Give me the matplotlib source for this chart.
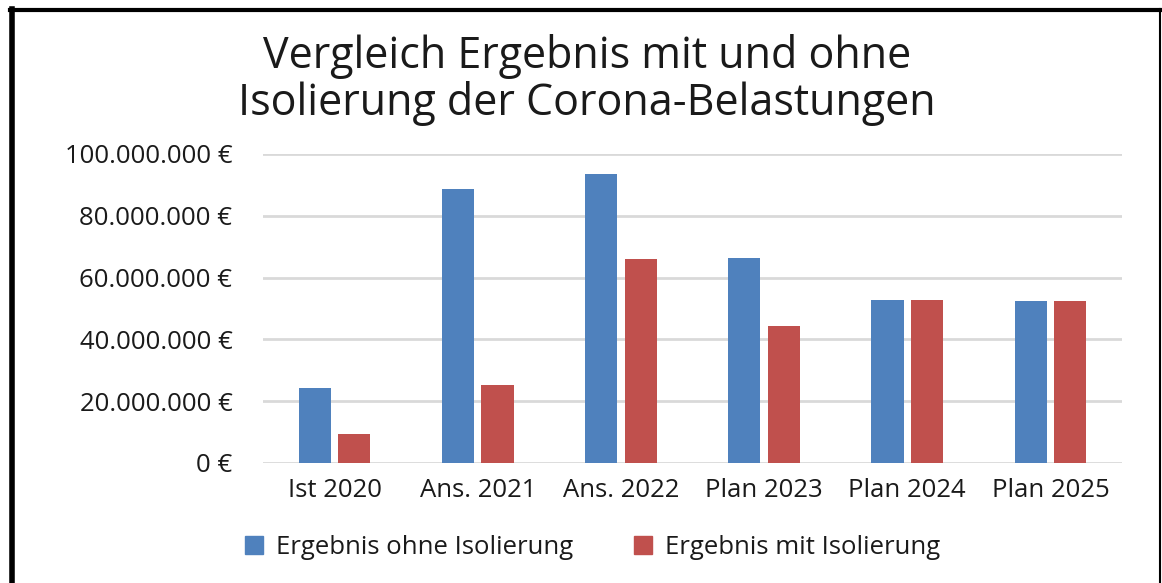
import matplotlib
matplotlib.use("Agg")
import matplotlib.pyplot as plt
import numpy as np
from matplotlib.patches import Patch
from matplotlib.lines import Line2D
from matplotlib.ticker import FuncFormatter

categories = ["Ist 2020", "Ans. 2021", "Ans. 2022", "Plan 2023", "Plan 2024", "Plan 2025"]
ohne = [24_300_000, 88_700_000, 93_600_000, 66_300_000, 52_700_000, 52_400_000]
mit = [9_400_000, 25_100_000, 65_900_000, 44_300_000, 52_700_000, 52_400_000]
series_names = ["Ergebnis ohne Isolierung", "Ergebnis mit Isolierung"]
title = "Vergleich Ergebnis mit und ohne\nIsolierung der Corona-Belastungen"

BLUE = "#4f81bd"
RED = "#c0504d"
GRID = "#d9d9d9"
TXT = "#1a1a1a"
FONT = ["Open Sans", "DejaVu Sans"]
plt.rcParams["font.family"] = FONT

fig = plt.figure(figsize=(11.62, 5.83), dpi=100)
W, H = 1162, 583
ax = fig.add_axes([263 / W, 1 - 463 / H, (1122 - 263) / W, (463 - 154) / H])

x = np.arange(len(categories))
bw = 0.225
off = 0.138
ax.bar(x - off, ohne, bw, color=BLUE, zorder=3)
ax.bar(x + off, mit, bw, color=RED, zorder=3)

ax.set_xlim(-0.5, len(categories) - 0.5)
ax.set_ylim(0, 100_000_000)
ax.set_yticks(np.arange(0, 100_000_001, 20_000_000))


def fmt(v, pos):
    s = f"{int(round(v)):,}".replace(",", ".")
    return f"{s} €"


ax.yaxis.set_major_formatter(FuncFormatter(fmt))
ax.set_xticks(x)
ax.set_xticklabels(categories)
ax.tick_params(axis="both", length=0, labelsize=18.5, colors=TXT)
ax.tick_params(axis="y", pad=22)
ax.tick_params(axis="x", pad=11)
ax.grid(axis="y", color=GRID, linewidth=2, zorder=0)
for s in ax.spines.values():
    s.set_visible(False)
ax.set_axisbelow(True)

fig.text(0.505, 1 - 80 / H, title, ha="center", va="center", fontsize=31,
         color=TXT, linespacing=1.05)

handles = [Patch(color=BLUE), Patch(color=RED)]
fig.legend(handles, series_names, loc="center", bbox_to_anchor=(0.51, 1 - 547 / H),
           ncol=2, frameon=False, fontsize=18.5, handlelength=0.7, handleheight=0.7,
           columnspacing=2.4, handletextpad=0.5, labelcolor=TXT)

# frame border
fig.add_artist(Line2D([12 / W, 12 / W], [0, 1 - 9 / H], transform=fig.transFigure,
                      color="black", linewidth=4))
fig.add_artist(Line2D([10 / W, 1160 / W], [1 - 10 / H, 1 - 10 / H], transform=fig.transFigure,
                      color="black", linewidth=3))
fig.add_artist(Line2D([1160 / W, 1160 / W], [0, 1 - 9 / H], transform=fig.transFigure,
                      color="black", linewidth=1.5))

fig.savefig("out.png", dpi=100)
